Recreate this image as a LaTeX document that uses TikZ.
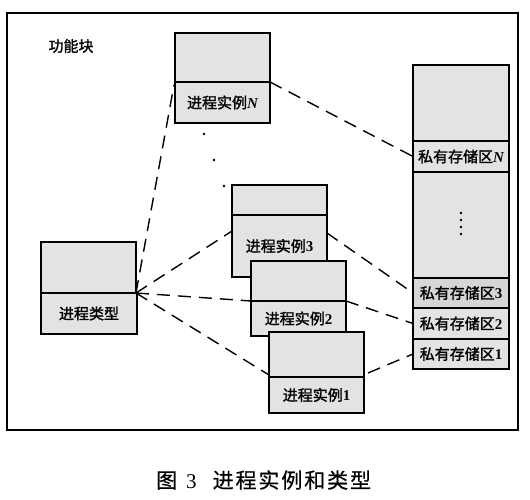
\documentclass[tikz,border=0pt]{standalone}
\usepackage{fontspec}
\setmainfont{Liberation Serif}
\newfontfamily\cjk[FakeBold=1.6]{Noto Sans CJK SC}
\newfontfamily\cjkcap[LetterSpace=9,FakeBold=0.6]{Noto Sans CJK SC}
\newcommand{\latin}[1]{{\rmfamily\bfseries #1}}
\newcommand{\latinit}[1]{{\rmfamily\bfseries\itshape #1}}
\usetikzlibrary{calc,backgrounds}
\begin{document}
\begin{tikzpicture}[x=1pt,y=-1pt,
  part/.style={draw=black, line width=1.4pt, fill=gray!22, outer sep=0pt, inner sep=0pt,
    minimum width=95pt, anchor=north west, font=\fontsize{15}{17}\selectfont},
  colpart/.style={part, minimum width=96pt},
  conn/.style={line width=1.4pt, dash pattern=on 13pt off 8pt},
  dotm/.style={fill=black, circle, inner sep=0pt, minimum size=2.6pt}]
\useasboundingbox (0,0) rectangle (530,500);
% frame
\node[draw=black, line width=1.4pt, minimum width=511pt, minimum height=417pt,
  anchor=north west, outer sep=0pt] (frame) at (7,13) {};
\node[font=\fontsize{15}{17}\selectfont] (func) at (71,46) {\cjk 功能块};

% process type
\node[part, minimum height=51pt] (tT) at (41,242) {};
\node[part, minimum height=41pt, minimum width=96pt] (tB) at (41,293) {\cjk 进程类型};

% instance N
\node[part, minimum height=49pt] (iNt) at (175,33) {};
\node[part, minimum height=41pt] (iNb) at (175,82) {\cjk 进程实例\latinit{N}};

% storage column
\node[colpart, minimum height=76pt] (cTop) at (413,65) {};
\node[colpart, minimum height=31pt] (sN) at (413,141) {\cjk 私有存储区\latinit{N}};
\node[colpart, minimum height=106pt] (cMid) at (413,172) {};
\node[colpart, minimum height=30pt, fill=gray!32] (s3) at (413,278) {\cjk 私有存储区\latin{3}};
\node[colpart, minimum height=31pt] (s2) at (413,308) {\cjk 私有存储区\latin{2}};
\node[colpart, minimum height=30pt] (s1) at (413,339) {\cjk 私有存储区\latin{1}};

% instances 3, 2, 1 (stacked)
\node[part, minimum height=30pt] (i3t) at (232,185) {};
\node[part, minimum height=62pt] (i3b) at (232,215) {\cjk 进程实例\latin{3}};
\node[part, minimum height=40pt] (i2t) at (251,261) {};
\node[part, minimum height=35pt] (i2b) at (251,301) {\cjk 进程实例\latin{2}};
\node[part, minimum height=45pt] (i1t) at (269,332) {};
\node[part, minimum height=36pt] (i1b) at (269,377) {\cjk 进程实例\latin{1}};

% connectors
\coordinate (tp) at (tT.south east);
\begin{scope}[on background layer]
\draw[conn] (tp) -- ($(iNb.north west)+(-1,3)$);
\draw[conn] (tp) -- ($(i3b.north west)+(0,16)$);
\draw[conn] (tp) -- (i2b.north west);
\draw[conn] (tp) -- ($(i1b.north west)+(0,-2)$);
\draw[conn] (iNb.north east) -- (sN.west);
\draw[conn] ($(i3b.north east)+(0,18)$) -- (s3.west);
\draw[conn] (i2b.north east) -- (s2.west);
\draw[conn] ($(i1b.north east)+(4,-4)$) -- (s1.west);
\end{scope}

% ellipsis dots
\node[dotm] (d1) at (204,134) {};
\node[dotm] (d2) at (214,160) {};
\node[dotm] (d3) at (224,186) {};
\node[dotm] (e1) at (461,213) {};
\node[dotm] (e2) at (461,220) {};
\node[dotm] (e3) at (461,227) {};
\node[dotm] (e4) at (461,234) {};

% caption
\node[font=\fontsize{21}{24}\selectfont, anchor=west, inner sep=0pt] (cap) at (156,480)
  {\cjkcap 图\hspace{9pt}\rmfamily 3\hspace{16pt}\cjkcap 进程实例和类型};
\end{tikzpicture}
\end{document}
